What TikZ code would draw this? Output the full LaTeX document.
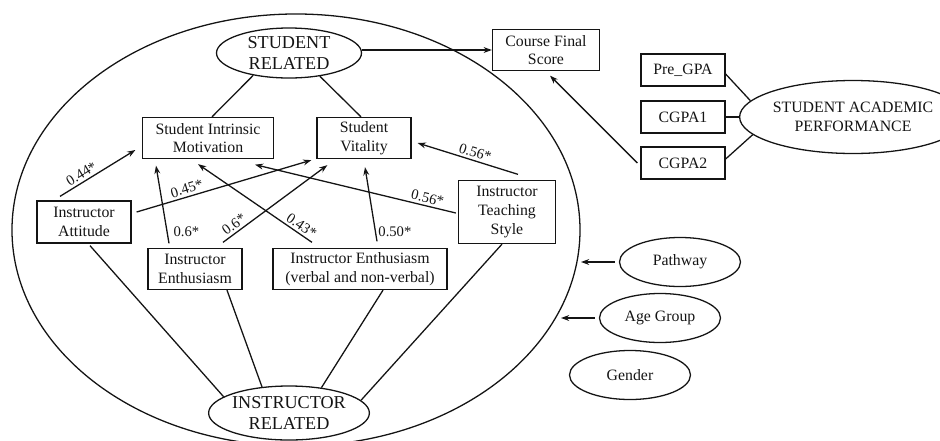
\documentclass[tikz,border=0pt]{standalone}
\usepackage{fontspec}
\setmainfont{Liberation Serif}
\usetikzlibrary{shapes.geometric}
\usetikzlibrary{arrows,arrows.meta}
\usetikzlibrary{calc}
\definecolor{linie}{RGB}{20,20,20}

\begin{document}
\begin{tikzpicture}[linie, x=0.03cm, y=-0.03cm, line width=1.1pt, >={Stealth[length=7pt,width=5pt]},
	itembox/.style={draw, align=center, inner sep=1pt, font=\fontsize{13.5}{16}\selectfont},
	latent/.style={draw, ellipse, align=center, inner sep=0pt, font=\fontsize{15.5}{18.5}\selectfont},
	group/.style={draw, ellipse, inner sep=0pt, minimum width=3.63cm, minimum height=1.47cm, font=\fontsize{13.5}{16}\selectfont},
	coef/.style={font=\fontsize{12.5}{14}\selectfont, inner sep=2pt}]

	\useasboundingbox (0,0) rectangle (940,440);

	% context ellipse
	\node[draw, ellipse, minimum width=17.04cm, minimum height=12.96cm] (ctx) at (296,230) {};

	\node[latent, minimum width=4.35cm, minimum height=1.5cm] (sr) at (289,53) {STUDENT\\RELATED};
	\node[latent, minimum width=4.26cm, minimum height=1.62cm] (ir) at (289,413) {INSTRUCTOR\\RELATED};
	\node[latent, font=\fontsize{13.5}{16}\selectfont, minimum width=5.22cm, minimum height=2.19cm] (sap) at (853,117) {STUDENT ACADEMIC\\PERFORMANCE};

	\node[itembox, minimum width=3.93cm, minimum height=1.23cm] (sim) at (208,138) {Student Intrinsic\\Motivation};
	\node[itembox, minimum width=2.82cm, minimum height=1.23cm] (sv) at (364,138) {Student\\Vitality};
	\node[itembox, minimum width=3.21cm, minimum height=1.23cm] (cfs) at (546,50) {Course Final\\Score};
	\node[itembox, minimum width=2.82cm, minimum height=1.26cm] (att) at (84,222) {Instructor\\Attitude};
	\node[itembox, minimum width=2.82cm, minimum height=1.23cm] (ent) at (195,269) {Instructor\\Enthusiasm};
	\node[itembox, minimum width=5.22cm, minimum height=1.23cm] (env) at (360,269) {Instructor Enthusiasm\\(verbal and non-verbal)};
	\node[itembox, minimum width=2.91cm, minimum height=1.89cm] (ts) at (507,212) {Instructor\\Teaching\\Style};

	\foreach \name/\y/\txt in {pre/70/Pre\_GPA, cg1/117/CGPA1, cg2/163/CGPA2}
		\node[itembox, minimum width=2.52cm, minimum height=0.96cm] (\name) at (683,\y) {\txt};

	\node[group] (pw) at (680,262) {Pathway};
	\node[group] (ag) at (660,318) {Age Group};
	\node[group] (gd) at (630,375) {Gender};

	% student related
	\draw[->] (sr.east |- cfs.west) -- (cfs.west);
	\draw (sr.212) -- ($(sim.north)+(4,0)$);
	\draw (sr.323) -- ($(sv.north)+(-3,0)$);

	% academic performance
	\draw ($(pre.east)+(0,4)$) -- (sap.171);
	\draw (cg1.east) -- (sap.west);
	\draw ($(cg2.east)+(0,-4)$) -- (sap.190);
	\draw[->] ($(cg2.west)+(-3,0)$) -- ($(cfs.south)+(4,4.5)$);

	% paths with coefficients
	\draw[->] ($(att.north)+(-24,-4)$) -- node[coef, pos=0.34, sloped, above] {0.44*} ($(sim.west)+(-6.5,12)$);
	\draw[->] ($(att.east)+(5,-10)$) -- node[coef, pos=0.3, sloped, above] {0.45*} ($(sv.south west)+(-5,1)$);
	\draw[->] ($(ent.north)+(-26,-4.5)$) -- node[coef, pos=0.15, right=3pt] {0.6*} ($(sim.south)+(-52,6.5)$);
	\draw[->] ($(ent.north)+(28,-5.5)$) -- node[coef, pos=0.15, sloped, above] {0.6*} ($(sv.south west)+(11,6)$);
	\draw[->] ($(env.north)+(-48,-5.5)$) -- node[coef, pos=0.13, sloped, above] {0.43*} ($(sim.south)+(-10,5)$);
	\draw[->] ($(env.north)+(17,-6.5)$) -- node[coef, pos=0.13, right] {0.50*} ($(sv.south)+(1,8)$);
	\draw[->] ($(ts.west)+(-2,1)$) -- node[coef, pos=0.15, sloped, above] {0.56*} ($(sim.south)+(47,5.5)$);
	\draw[->] ($(ts.north)+(11,-5.5)$) -- node[coef, pos=0.45, sloped, above] {0.56*} ($(sv.east)+(6,5)$);

	% instructor related
	\draw ($(att.south)+(6,2)$) -- (ir.166);
	\draw ($(ent.south)+(32,0)$) -- (ir.136);
	\draw ($(env.south)+(23,0)$) -- (ir.38);
	\draw ($(ts.south)+(-5,0)$) -- (ir.10);

	% covariates
	\coordinate (pwend) at (581,262);
	\coordinate (agend) at (561,318);
	\draw[->] ($(pw.west)+(-4,0)$) -- (pwend);
	\draw[->] ($(ag.west)+(-4,0)$) -- (agend);

\end{tikzpicture}
\end{document}
